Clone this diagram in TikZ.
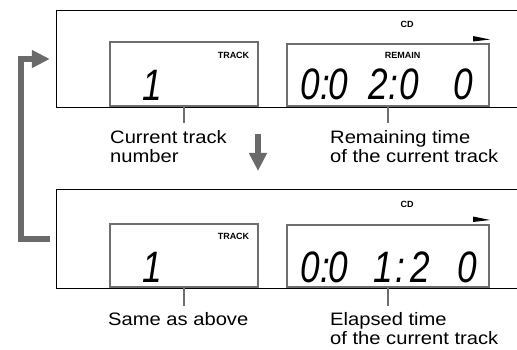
\documentclass[tikz,border=0pt]{standalone}
\usepackage{fontspec}
\setmainfont{Liberation Sans}
\newfontfamily\lblfont[FakeStretch=1.12]{Liberation Sans}
\newfontfamily\lcdfont[FakeStretch=0.8]{Liberation Sans}
\usepackage{xcolor}
\usepackage{tikz}
\usetikzlibrary{positioning}
\usetikzlibrary{arrows.meta}

\definecolor{lcdgray}{HTML}{6E6E6E}
\definecolor{flowgray}{HTML}{6A6A6A}

\tikzset{
  panel/.style={minimum width=460pt, inner sep=0pt},
  panelline/.style={line width=1.3pt, black},
  lcdbox/.style={draw=lcdgray, line width=2pt, inner sep=0pt},
  leader/.style={draw=lcdgray, line width=1.4pt},
  flowarrow/.style={draw=flowgray, line width=6.5pt, -{Triangle[length=18pt,width=17pt]}},
  tag/.style={font=\fontsize{9}{9}\selectfont\bfseries, inner sep=0pt},
  lcddigit/.style={font=\lcdfont\itshape\fontsize{44}{44}\selectfont, inner sep=0pt, anchor=base},
  desc/.style={font=\lblfont\fontsize{18}{19.5}\selectfont, align=left, anchor=north west, inner sep=0pt}
}

\begin{document}
\begin{tikzpicture}[x=1pt, y=-1pt]
			\useasboundingbox (0,0) rectangle (517,350);
			% Display panels (open at the right edge)
			\node[panel, minimum height=96pt] (pan1) at (287,59) {};
			\node[panel, minimum height=98pt] (pan2) at (287,239) {};
			\draw[panelline] (pan1.north east) -- (pan1.north west) -- (pan1.south west) -- (pan1.south east);
			\draw[panelline] (pan2.north east) -- (pan2.north west) -- (pan2.south west) -- (pan2.south east);

			% Upper display
			\node[lcdbox, minimum width=148pt, minimum height=64pt] (trk1) at (184,74) {};
			\node[lcdbox, minimum width=202pt, minimum height=62pt] (rem1) at (388,75) {};
			\node[tag] (cd1) at (407,24.5) {CD};
			\node[tag] (trktag1) at (233.5,55) {TRACK};
			\node[tag] (remtag1) at (402.5,55) {REMAIN};
			\fill (473,36) -- (490,39.5) -- (473,41.5) -- cycle;
			\node[lcddigit] (num1) at (152,101) {1};
			\foreach \x/\c in {310/0, 325/:, 338/0, 378/2, 393/:, 409/0, 463/0}
				\node[lcddigit] (up-\x) at (\x,100) {\c};

			% Lower display
			\node[lcdbox, minimum width=148pt, minimum height=63pt] (trk2) at (184,255.5) {};
			\node[lcdbox, minimum width=202pt, minimum height=62pt] (rem2) at (388,256) {};
			\node[tag] (cd2) at (407,204.5) {CD};
			\node[tag] (trktag2) at (233.5,236) {TRACK};
			\fill (473,216.5) -- (490,220) -- (473,222) -- cycle;
			\node[lcddigit] (num2) at (152,282) {1};
			\foreach \x/\c in {310/0, 325/:, 338/0, 383/1, 400/:, 420/2, 467/0}
				\node[lcddigit] (low-\x) at (\x,282) {\c};

			% Callouts
			\node[desc] (curtrk) at (110,130) {Current track\\number};
			\node[desc] (remtime) at (330,130) {Remaining time\\of the current track};
			\node[desc] (same) at (108,312) {Same as above};
			\node[desc] (elapsed) at (330,312) {Elapsed time\\of the current track};
			\draw[leader] (trk1.south) -- +(0,16);
			\draw[leader] (rem1.south) -- +(0,16);
			\draw[leader] (trk2.south) -- +(0,18);
			\draw[leader] (rem2.south) -- +(0,18);

			% Flow arrows
			\coordinate (dnstart) at (258,134);
			\coordinate (dnend) at (258,171);
			\draw[flowarrow] (dnstart) -- (dnend);
			\draw[flowarrow] ([xshift=-7pt]pan2.west) -- ++(-29,0) |- ([xshift=-7pt]pan1.west);
		\end{tikzpicture}
\end{document}
